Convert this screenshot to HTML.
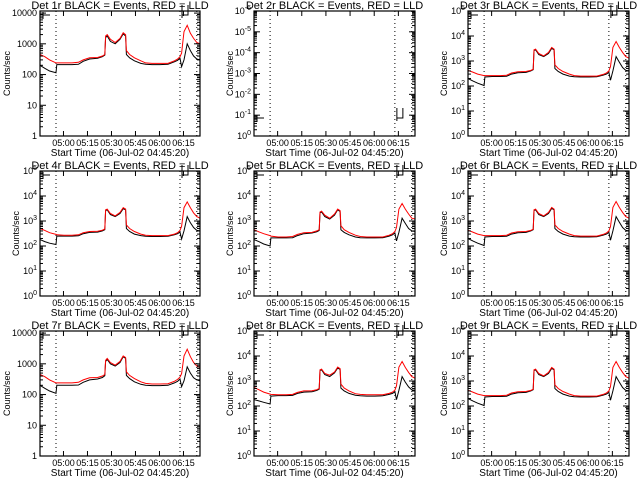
<!DOCTYPE html>
<html><head><meta charset="utf-8">
<style>
html,body{margin:0;padding:0;background:#fff;}
svg{display:block;font-family:"Liberation Sans",sans-serif;}
</style></head>
<body>
<svg id="chart" width="640" height="480" viewBox="0 0 640 480" xmlns="http://www.w3.org/2000/svg"></svg>
<script>
// shared time axis (minutes after 04:45:20)
const times = [0,3,6,10,10.5,15,20,24,27,31,36,39,40.5,41,42,44,47,50,52,53.5,54,56,59,63,66,70,75,80,84,86,87.5,88.5,90,92,94,96,98,100];
const xTickLabels = ["05:00","05:15","05:30","05:45","06:00","06:15"];
const xTickMinutes = [14.67,29.67,44.67,59.67,74.67,89.67];
const dottedMinutes = [10,87.5,98];
const detNames = ["1r","2r","3r","4r","5r","6r","7r","8r","9r"];

const red1 = [450,380,300,240,240,240,240,250,300,350,360,400,450,1800,2000,1400,1100,1500,2300,2000,600,450,350,280,240,230,230,230,280,320,380,500,2500,4000,2200,1500,1100,1000];
const black1 = [200,160,130,115,210,210,210,215,270,320,340,380,430,1600,1800,1200,1000,1400,2100,1800,450,350,280,230,215,210,210,215,260,290,340,180,300,1000,600,400,320,300];
const red2 = [];
const black2 = [];
const red3 = [420,360,300,260,260,260,260,270,330,370,380,420,470,2800,3000,2000,1600,2200,3500,3000,700,500,380,300,260,250,250,250,290,330,400,600,3500,6000,3500,2200,1500,1300];
const black3 = [200,160,130,105,230,240,240,245,300,340,350,400,450,2600,2800,1800,1500,2000,3200,2800,500,380,300,250,235,230,230,235,270,300,350,170,400,1500,900,550,420,400];
const red4 = [500,420,340,290,280,270,270,280,340,380,390,430,480,2800,3000,2000,1600,2200,3400,3000,700,500,380,300,270,260,260,260,300,340,420,620,3400,5800,3400,2100,1500,1300];
const black4 = [180,150,130,115,250,250,250,255,310,350,360,400,450,2600,2800,1800,1500,2000,3100,2800,500,380,300,260,245,240,240,245,280,310,360,190,400,1500,850,550,420,400];
const red5 = [450,370,310,260,250,230,230,240,290,340,350,400,450,2300,2500,1700,1300,1900,3000,2600,650,450,350,270,240,230,230,230,270,310,380,550,3000,5000,3000,1900,1300,1200];
const black5 = [180,150,120,100,210,210,210,215,260,310,330,370,420,2100,2300,1500,1200,1700,2800,2400,450,350,280,230,215,210,210,215,250,280,330,160,350,1300,800,500,400,380];
const red6 = [430,360,300,260,260,260,260,270,330,370,380,420,470,2800,3000,2000,1600,2200,3500,3000,700,500,380,300,260,250,250,250,290,330,400,600,3500,6000,3500,2200,1500,1300];
const black6 = [200,160,130,105,230,240,240,245,300,340,350,400,450,2600,2800,1800,1500,2000,3200,2800,500,380,300,250,235,230,230,235,270,300,350,170,400,1500,900,550,420,400];
const red7 = [450,380,300,240,240,240,240,250,300,350,360,400,450,1300,1500,1100,900,1200,1800,1600,550,420,330,260,230,220,220,225,270,310,370,480,1800,3000,1700,1100,850,750];
const black7 = [200,160,130,110,200,200,200,205,250,300,320,360,410,1200,1400,1000,850,1100,1700,1500,420,330,260,215,200,195,195,200,240,270,320,180,280,800,500,350,300,280];
const red8 = [550,450,360,300,290,280,280,290,350,400,410,450,500,2800,3000,2000,1700,2300,3600,3100,750,520,400,310,290,280,280,280,320,360,430,650,3600,6000,3500,2200,1500,1300];
const black8 = [180,160,140,120,250,260,260,265,320,360,370,420,470,2600,2800,1800,1500,2100,3300,2900,520,400,320,270,255,250,250,255,290,320,370,180,420,1500,900,580,440,420];
const red9 = [430,360,300,260,260,260,260,270,330,370,380,420,470,2800,3000,2000,1600,2200,3500,3000,700,500,380,300,260,250,250,250,290,330,400,600,3500,6000,3500,2200,1500,1300];
const black9 = [200,160,130,105,230,240,240,245,300,340,350,400,450,2600,2800,1800,1500,2000,3200,2800,500,380,300,250,235,230,230,235,270,300,350,170,400,1500,900,550,420,400];

const redSeries = [red1,red2,red3,red4,red5,red6,red7,red8,red9];
const blackSeries = [black1,black2,black3,black4,black5,black6,black7,black8,black9];

const svg = document.getElementById('chart');
const NS = 'http://www.w3.org/2000/svg';
function mk(tag, attrs, parent){
  const e = document.createElementNS(NS, tag);
  for (const k in attrs) e.setAttribute(k, attrs[k]);
  parent.appendChild(e);
  return e;
}
const colLeft = [40,254,468];
const colRight = [200,415,629];

for (let p = 0; p < 9; p++) {
  const r = Math.floor(p/3), c = p%3;
  const L = colLeft[c], R = colRight[c], T = 11 + r*160, B = 136 + r*160;
  let type = (p === 0 || p === 6) ? 'A' : (p === 1 ? 'C' : 'B');
  const ymax = type === 'A' ? 11700 : (type === 'B' ? 1e5 : 1e6);
  const xs = m => L + (m/100)*(R-L);
  const ys = v => B - (Math.log10(v)/Math.log10(ymax))*(B-T);
  const ylx = type === 'A' ? L - 30 : L - 21;

  const g = mk('g', {}, svg);
  
  

  const title = mk('text', {x:(L+R)/2, y:T-2, 'text-anchor':'middle', 'font-size':'11'}, g);
  
  
  title.textContent = 'Det ' + detNames[p] + ' BLACK = Events, RED = LLD';

  for (const dm of dottedMinutes) {
    const dl = mk('line', {x1:xs(dm), x2:xs(dm), y1:T, y2:B, stroke:'#000', 'stroke-width':'1', 'stroke-dasharray':'1,3'}, g);
    
    
  }

  const drawSeries = (arr, color, name) => {
    if (!arr.length) return;
    let d = '';
    for (let i = 0; i < arr.length; i++) {
      d += (i ? 'L' : 'M') + xs(times[i]).toFixed(1) + ',' + ys(arr[i]).toFixed(1);
    }
    const pl = mk('path', {d:d, fill:'none', stroke:color, 'stroke-width':'1'}, g);
    
    
  };
  drawSeries(blackSeries[p], '#000', 'events-line');
  drawSeries(redSeries[p], '#f00', 'lld-line');

  const by = (p === 1) ? B - 22 : T;
  const br = mk('path', {d:'M'+(L+3)+','+(by+1)+'V'+(by+8)+'M'+(L+3)+','+(by+4)+'H'+(L+10)+
    'M'+(xs(87.5)+2)+','+(by-6)+'V'+(by+7)+'M'+(xs(87.5)+2)+','+(by+4)+'H'+(xs(87.5)+8)+'V'+(by-6), fill:'none', stroke:'#000', 'stroke-width':'1'}, g);
  
  

  const fr = mk('rect', {x:L, y:T, width:R-L, height:B-T, fill:'none', stroke:'#000', 'stroke-width':'1.2'}, g);
  
  

  for (let i = 0; i < xTickLabels.length; i++) {
    const x = xs(xTickMinutes[i]);
    mk('line', {x1:x, x2:x, y1:B, y2:B-5, stroke:'#000'}, g);
    mk('line', {x1:x, x2:x, y1:T, y2:T+5, stroke:'#000'}, g);
    const tl = mk('text', {x:x, y:B+10, 'text-anchor':'middle', 'font-size':'9'}, g);
    
    
    tl.textContent = xTickLabels[i];
  }
  const xt = mk('text', {x:(L+R)/2, y:B+20, 'text-anchor':'middle', 'font-size':'10'}, g);
  
  
  xt.textContent = 'Start Time (06-Jul-02 04:45:20)';

  const nDec = type === 'A' ? 4 : (type === 'B' ? 5 : 6);
  for (let k = 0; k <= nDec; k++) {
    const y = ys(Math.pow(10,k));
    mk('line', {x1:L, x2:L+6, y1:y, y2:y, stroke:'#000'}, g);
    mk('line', {x1:R, x2:R-6, y1:y, y2:y, stroke:'#000'}, g);
    if (k < nDec) for (let m = 2; m < 10; m++) {
      const ym = ys(m*Math.pow(10,k));
      mk('line', {x1:L, x2:L+3, y1:ym, y2:ym, stroke:'#000'}, g);
      mk('line', {x1:R, x2:R-3, y1:ym, y2:ym, stroke:'#000'}, g);
    }
    const yl = mk('text', {x:L-3, y:y+3, 'text-anchor':'end', 'font-size':'9'}, g);
    
    
    if (type === 'A') {
      yl.textContent = String(Math.pow(10,k));
    } else {
      const exp = type === 'B' ? String(k) : (k === 0 ? '0' : '-' + k);
      const b = mk('tspan', {}, yl); b.textContent = '10';
      const s = mk('tspan', {dy:'-4', 'font-size':'7'}, yl); s.textContent = exp;
    }
  }
  const ylab = mk('text', {x:ylx, y:(T+B)/2, 'text-anchor':'middle', 'font-size':'9', transform:'rotate(-90 '+ylx+' '+((T+B)/2)+')'}, g);
  
  
  ylab.textContent = 'Counts/sec';
}
</script>
</body></html>
